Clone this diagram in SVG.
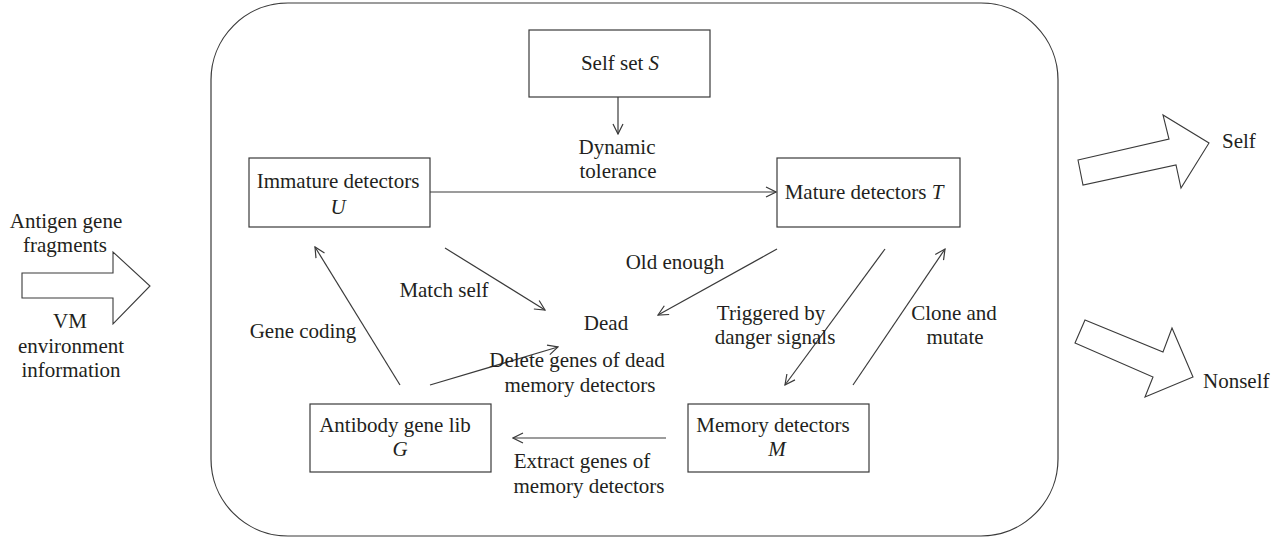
<svg xmlns="http://www.w3.org/2000/svg" width="1285" height="540" viewBox="0 0 1285 540">
<defs>
<style>
text{font-family:"Liberation Serif","Times New Roman",serif;font-size:21px;fill:#231f20}
.c{text-anchor:middle}
.i{font-style:italic}
.box{fill:#fff;stroke:#3a3a3a;stroke-width:1.2}
.ln{fill:none;stroke:#3a3a3a;stroke-width:1.2}
.blk{fill:#fff;stroke:#3a3a3a;stroke-width:1.1;stroke-linejoin:miter}
</style>
<marker id="ah" viewBox="0 0 12 12" refX="11" refY="6" markerWidth="12" markerHeight="12" markerUnits="userSpaceOnUse" orient="auto">
<path d="M1,1 L11,6 L1,11" fill="none" stroke="#3a3a3a" stroke-width="1.2"/>
</marker>
</defs>
<rect id="frame" x="211" y="3" width="847" height="533" rx="77" ry="77" class="ln"/>

<g id="input">
<polygon class="blk" points="22,273 113,273 113,252 150,286 113,324 113,298 22,298"/>
<text class="c" x="66" y="228">Antigen gene</text>
<text class="c" x="65" y="252">fragments</text>
<text class="c" x="70" y="328">VM</text>
<text class="c" x="71" y="353">environment</text>
<text class="c" x="71" y="377">information</text>
</g>

<g id="out-self">
<polygon class="blk" points="1078,160 1169,139 1163,115 1209,143 1181,188 1176,165 1083,185"/>
<text x="1222" y="148">Self</text>
</g>

<g id="out-nonself">
<polygon class="blk" points="1085,320 1163,352 1172,328 1193,377 1145,397 1153,377 1075,343"/>
<text x="1203" y="388">Nonself</text>
</g>

<g id="selfset">
<rect class="box" x="529" y="30" width="181" height="67"/>
<text class="c" x="620" y="70">Self set <tspan class="i">S</tspan></text>
</g>

<g id="immature">
<rect class="box" x="249" y="158" width="181" height="69"/>
<text class="c" x="338" y="188">Immature detectors</text>
<text class="c i" x="338" y="214">U</text>
</g>

<g id="mature">
<rect class="box" x="777" y="158" width="183" height="69"/>
<text class="c" x="864" y="199">Mature detectors <tspan class="i">T</tspan></text>
</g>

<g id="dead">
<text class="c" x="606" y="330">Dead</text>
</g>

<g id="antibody">
<rect class="box" x="310" y="404" width="181" height="68"/>
<text class="c" x="395" y="432">Antibody gene lib</text>
<text class="c i" x="400" y="456">G</text>
</g>

<g id="memory">
<rect class="box" x="688" y="404" width="181" height="68"/>
<text class="c" x="773" y="432">Memory detectors</text>
<text class="c i" x="777" y="456">M</text>
</g>

<g id="connectors">
<line class="ln" x1="618" y1="97" x2="618" y2="134" marker-end="url(#ah)"/>
<line class="ln" x1="430" y1="192" x2="776" y2="192" marker-end="url(#ah)"/>
<line class="ln" x1="445" y1="248" x2="545" y2="310" marker-end="url(#ah)"/>
<line class="ln" x1="777" y1="249" x2="658" y2="315" marker-end="url(#ah)"/>
<line class="ln" x1="885" y1="249" x2="785" y2="385" marker-end="url(#ah)"/>
<line class="ln" x1="853" y1="385" x2="945" y2="249" marker-end="url(#ah)"/>
<line class="ln" x1="400" y1="385" x2="315" y2="247" marker-end="url(#ah)"/>
<line class="ln" x1="430" y1="385" x2="558" y2="347" marker-end="url(#ah)"/>
<line class="ln" x1="666" y1="438" x2="513" y2="438" marker-end="url(#ah)"/>
</g>

<g id="labels">
<text class="c" x="617" y="154">Dynamic</text>
<text class="c" x="618" y="178">tolerance</text>
<text class="c" x="675" y="269">Old enough</text>
<text class="c" x="444" y="297">Match self</text>
<text class="c" x="303" y="338">Gene coding</text>
<text class="c" x="577" y="367">Delete genes of dead</text>
<text class="c" x="580" y="392">memory detectors</text>
<text class="c" x="771" y="320">Triggered by</text>
<text class="c" x="775" y="344">danger signals</text>
<text class="c" x="954" y="320">Clone and</text>
<text class="c" x="955" y="344">mutate</text>
<text class="c" x="582" y="468">Extract genes of</text>
<text class="c" x="589" y="493">memory detectors</text>
</g>
</svg>
